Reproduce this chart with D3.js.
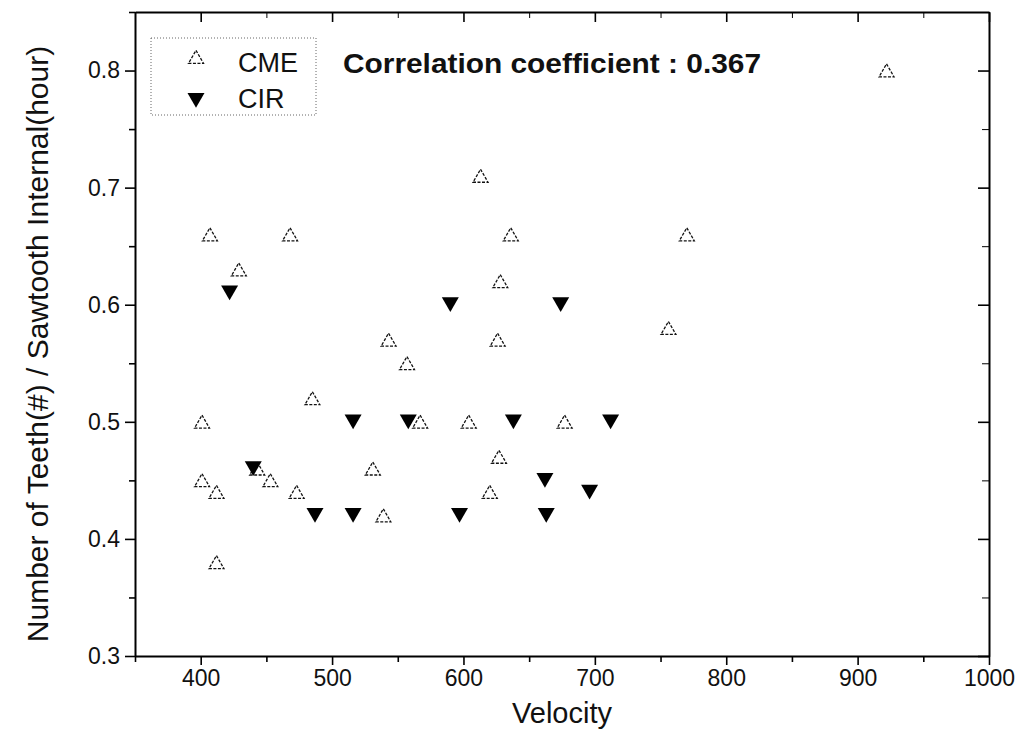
<!DOCTYPE html>
<html>
<head>
<meta charset="utf-8">
<script src="https://cdn.jsdelivr.net/npm/d3@7"></script>
<style>
  body { margin: 0; background: #fff; }
  svg { display: block; font-family: "Liberation Sans", Arial, sans-serif; }
  .tick text { font-size: 23px; fill: #111; }
  .axis path, .axis line { stroke: #000; }
  .axis-label { font-size: 29px; fill: #111; }
</style>
</head>
<body>
<svg width="1033" height="736"></svg>
<script>
// CME events (open triangles)
const cmeVelocity = [922, 613, 407, 468, 636, 770, 429, 628, 756, 543, 626, 557, 485,
                     401, 567, 604, 677, 627, 531, 443, 453, 401, 412, 473, 620, 539, 412];
const cmeRate     = [0.80, 0.71, 0.66, 0.66, 0.66, 0.66, 0.63, 0.62, 0.58, 0.57, 0.57, 0.55, 0.52,
                     0.50, 0.50, 0.50, 0.50, 0.47, 0.46, 0.46, 0.45, 0.45, 0.44, 0.44, 0.44, 0.42, 0.38];

// CIR events (filled down triangles)
const cirVelocity = [422, 590, 674, 516, 558, 638, 712, 440, 662, 696, 487, 516, 597, 663];
const cirRate     = [0.61, 0.60, 0.60, 0.50, 0.50, 0.50, 0.50, 0.46, 0.45, 0.44, 0.42, 0.42, 0.42, 0.42];

const xTicks = [400, 500, 600, 700, 800, 900, 1000];
const xMinor = [350, 450, 550, 650, 750, 850, 950];
const yTicks = [0.3, 0.4, 0.5, 0.6, 0.7, 0.8];
const yMinor = [0.35, 0.45, 0.55, 0.65, 0.75, 0.85];
const corrText = "Correlation coefficient : 0.367";

const svg = d3.select("svg");
const pl = 135, pr = 989, pt = 12, pb = 656;

const x = d3.scaleLinear().domain([350, 1000]).range([pl, pr]);
const y = d3.scaleLinear().domain([0.3, 0.85]).range([pb, pt]);

// bottom axis, outward ticks
svg.append("g").attr("class", "axis")
    .attr("transform", `translate(0,${pb})`)
    .call(d3.axisBottom(x).tickValues(xTicks).tickFormat(d3.format("d")).tickSize(9).tickPadding(5).tickSizeOuter(0))
    .call(g => g.select(".domain").attr("stroke-width", 2))
    .call(g => g.selectAll(".tick line").attr("stroke-width", 1.6));
svg.append("g").attr("class", "axis")
    .attr("transform", `translate(0,${pb})`)
    .call(d3.axisBottom(x).tickValues(xMinor).tickSize(6).tickFormat("").tickSizeOuter(0))
    .call(g => g.select(".domain").remove())
    .call(g => g.selectAll(".tick line").attr("stroke-width", 1.6));

// left axis, outward ticks
svg.append("g").attr("class", "axis")
    .attr("transform", `translate(${pl},0)`)
    .call(d3.axisLeft(y).tickValues(yTicks).tickFormat(d3.format(".1f")).tickSize(10).tickPadding(5).tickSizeOuter(0))
    .call(g => g.select(".domain").attr("stroke-width", 2))
    .call(g => g.selectAll(".tick line").attr("stroke-width", 1.6));
svg.append("g").attr("class", "axis")
    .attr("transform", `translate(${pl},0)`)
    .call(d3.axisLeft(y).tickValues(yMinor).tickSize(6).tickFormat("").tickSizeOuter(0))
    .call(g => g.select(".domain").remove())
    .call(g => g.selectAll(".tick line").attr("stroke-width", 1.6));

// top + right mirror axes, ticks inward
svg.append("g").attr("class", "axis")
    .attr("transform", `translate(0,${pt})`)
    .call(d3.axisBottom(x).tickValues(xTicks).tickSize(10).tickFormat("").tickSizeOuter(0))
    .call(g => g.select(".domain").attr("stroke-width", 2))
    .call(g => g.selectAll(".tick line").attr("stroke-width", 1.6));
svg.append("g").attr("class", "axis")
    .attr("transform", `translate(0,${pt})`)
    .call(d3.axisBottom(x).tickValues(xMinor).tickSize(6).tickFormat("").tickSizeOuter(0))
    .call(g => g.select(".domain").remove());
svg.append("g").attr("class", "axis")
    .attr("transform", `translate(${pr},0)`)
    .call(d3.axisLeft(y).tickValues(yTicks).tickSize(11).tickFormat("").tickSizeOuter(0))
    .call(g => g.select(".domain").attr("stroke-width", 2))
    .call(g => g.selectAll(".tick line").attr("stroke-width", 1.6));
svg.append("g").attr("class", "axis")
    .attr("transform", `translate(${pr},0)`)
    .call(d3.axisLeft(y).tickValues(yMinor).tickSize(7).tickFormat("").tickSizeOuter(0))
    .call(g => g.select(".domain").remove());

// axis titles
svg.append("text")
    .attr("class", "axis-label")
    .attr("x", (pl + pr) / 2)
    .attr("y", 723)
    .attr("text-anchor", "middle")
    .text("Velocity");

svg.append("text")
    .attr("class", "axis-label")
    .attr("font-size", 30)
    .attr("transform", `translate(48,${(pt + pb) / 2 + 10}) rotate(-90)`)
    .attr("text-anchor", "middle")
    .style("font-size", "30px")
    .text("Number of Teeth(#) / Sawtooth Internal(hour)");

// markers
const upTri = d3.symbol().type(d3.symbolTriangle).size(97);
const downTri = d3.symbol().type(d3.symbolTriangle).size(125);

const cme = cmeVelocity.map((v, i) => ({ v: v, r: cmeRate[i] }));
const cir = cirVelocity.map((v, i) => ({ v: v, r: cirRate[i] }));

svg.append("g").selectAll("path")
    .data(cme)
    .enter()
    .append("path")
    .attr("d", upTri)
    .attr("transform", d => `translate(${x(d.v)},${y(d.r) + 2})`)
    .attr("fill", "none")
    .attr("stroke", "#111")
    .attr("stroke-width", 1.3)
    .attr("stroke-dasharray", "3,1.5");

svg.append("g").selectAll("path")
    .data(cir)
    .enter()
    .append("path")
    .attr("d", downTri)
    .attr("transform", d => `translate(${x(d.v)},${y(d.r) - 2.5}) rotate(180)`)
    .attr("fill", "#000");

// legend
const legend = svg.append("g");
legend.append("rect")
    .attr("x", 151).attr("y", 38)
    .attr("width", 165).attr("height", 77)
    .attr("fill", "none")
    .attr("stroke", "#666")
    .attr("stroke-width", 1)
    .attr("stroke-dasharray", "1,2");
legend.append("path")
    .attr("d", upTri)
    .attr("transform", "translate(196,59)")
    .attr("fill", "none")
    .attr("stroke", "#111")
    .attr("stroke-width", 1.3)
    .attr("stroke-dasharray", "3,1.5");
legend.append("path")
    .attr("d", downTri)
    .attr("transform", "translate(196,98) rotate(180)")
    .attr("fill", "#000");
legend.append("text")
    .attr("x", 238).attr("y", 72)
    .attr("font-size", 27)
    .attr("fill", "#111")
    .text("CME");
legend.append("text")
    .attr("x", 238).attr("y", 108)
    .attr("font-size", 27)
    .attr("fill", "#111")
    .text("CIR");

svg.append("text")
    .attr("x", 343).attr("y", 73)
    .attr("font-size", 28)
    .attr("font-weight", "bold")
    .attr("fill", "#111")
    .attr("textLength", 418)
    .attr("lengthAdjust", "spacingAndGlyphs")
    .text(corrText);
</script>
</body>
</html>
